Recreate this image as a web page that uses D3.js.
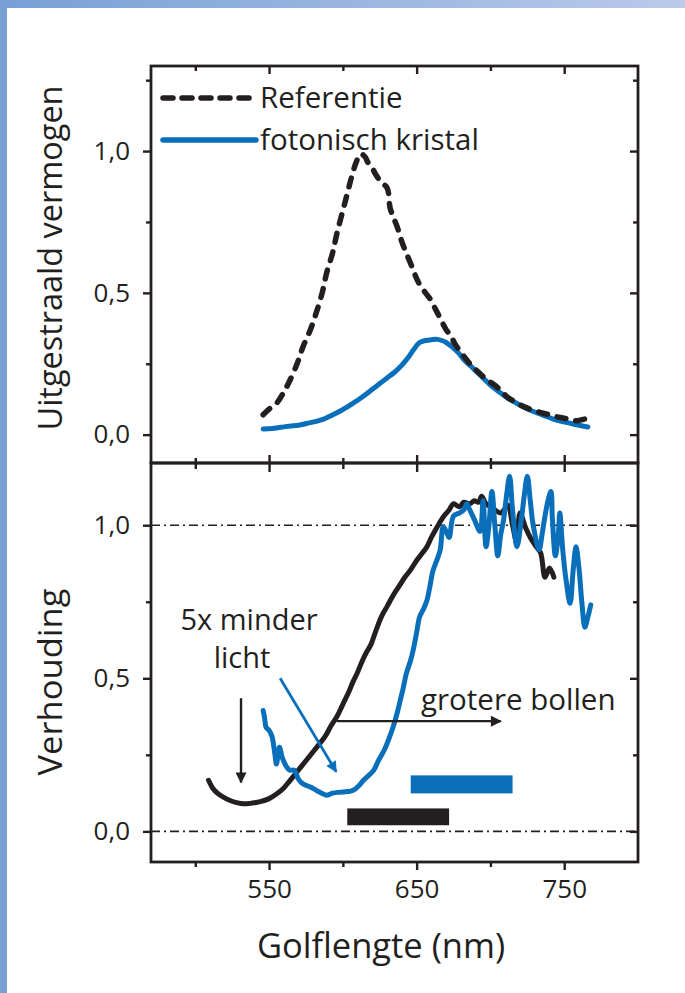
<!DOCTYPE html>
<html><head><meta charset="utf-8">
<script src="https://cdn.jsdelivr.net/npm/d3@7"></script>
<style>
body{margin:0;background:#fff}
text{font-family:'Open Sans',sans-serif;fill:#231f20}
</style></head>
<body><svg id="c" width="685" height="993"></svg>
<script>
// ---------- data ----------
const xTicksMajor = [550, 650, 750];
const xTicksMinor = [500, 600, 700];
const yTicksMajor = [0, 0.5, 1.0];
const yTopMinor = [0.25, 0.75, 1.25];
const yBotMinor = [0.25, 0.75];
const legendLabels = ["Referentie", "fotonisch kristal"];

const referentie = [[546,0.07],[550,0.09],[555,0.11],[560,0.15],[564,0.19],[569,0.25],[573,0.31],[578,0.37],[582,0.43],[586,0.50],[589,0.57],[593,0.64],[596,0.71],[600,0.79],[603,0.85],[606,0.91],[609,0.96],[612,0.99],[615,0.98],[617,0.96],[619,0.95],[622,0.92],[626,0.89],[630,0.87],[632,0.80],[634,0.77],[637,0.73],[640,0.68],[643,0.64],[647,0.59],[650,0.55],[652,0.53],[656,0.50],[659,0.48],[663,0.44],[666,0.41],[670,0.37],[673,0.35],[676,0.32],[680,0.29],[683,0.27],[686,0.25],[690,0.23],[695,0.205],[700,0.185],[704,0.17],[708,0.15],[712,0.13],[717,0.115],[722,0.10],[728,0.088],[734,0.078],[740,0.07],[745,0.063],[750,0.058],[756,0.05],[760,0.05],[764,0.055],[767,0.055]];

const kristal = [[546,0.02],[552,0.022],[558,0.026],[564,0.03],[570,0.033],[576,0.04],[582,0.047],[587,0.055],[592,0.067],[597,0.08],[601,0.092],[606,0.108],[611,0.125],[615,0.14],[620,0.16],[625,0.18],[630,0.2],[635,0.22],[640,0.245],[644,0.27],[648,0.3],[652,0.325],[656,0.332],[660,0.335],[664,0.336],[667,0.332],[670,0.325],[674,0.31],[678,0.29],[682,0.265],[686,0.245],[690,0.225],[695,0.2],[700,0.175],[706,0.15],[712,0.128],[718,0.11],[724,0.093],[730,0.08],[736,0.068],[742,0.056],[748,0.047],[754,0.04],[760,0.033],[766,0.027]];

const verhoudingZwart = [[509,0.167],[512,0.14],[515,0.125],[519,0.112],[524,0.1],[528,0.094],[533,0.09],[538,0.092],[544,0.097],[550,0.107],[555,0.122],[560,0.142],[564,0.165],[569,0.195],[574,0.225],[579,0.255],[584,0.285],[588,0.31],[592,0.345],[596,0.375],[600,0.415],[604,0.455],[607,0.49],[610,0.52],[613,0.555],[616,0.585],[619,0.61],[622,0.65],[626,0.7],[630,0.735],[634,0.77],[638,0.8],[642,0.83],[646,0.855],[650,0.885],[654,0.91],[657,0.93],[660,0.96],[664,0.995],[668,1.027],[672,1.05],[675,1.07],[679,1.06],[682,1.075],[686,1.07],[689,1.08],[692,1.075],[694,1.095],[697,1.07],[700,1.06],[703,1.05],[707,1.04],[710,1.055],[712,1.065],[715,1.0],[718,0.94],[720,1.04],[724,0.99],[727,0.96],[731,0.93],[734,0.91],[737,0.83],[740,0.86],[743,0.83]];

const verhoudingBlauw = [[546,0.395],[547,0.37],[548,0.34],[550,0.33],[552,0.31],[554,0.25],[555,0.22],[557,0.275],[559,0.24],[562,0.21],[564,0.2],[567,0.2],[570,0.17],[573,0.155],[578,0.145],[582,0.134],[586,0.124],[589,0.118],[593,0.125],[598,0.128],[603,0.13],[607,0.134],[611,0.15],[614,0.167],[618,0.185],[621,0.2],[624,0.23],[628,0.265],[631,0.3],[634,0.34],[637,0.39],[639,0.43],[641,0.47],[643,0.515],[646,0.56],[648,0.6],[650,0.65],[652,0.7],[655,0.73],[657,0.755],[659,0.8],[661,0.85],[664,0.89],[666,0.92],[668,0.995],[670,0.98],[672,0.96],[675,1.03],[679,1.04],[682,1.05],[684,1.07],[686,1.05],[689,1.02],[693,0.98],[695,1.08],[697,0.93],[699,1.0],[701,1.11],[703,1.0],[705,0.9],[707,0.97],[709,1.02],[711,1.1],[713,1.16],[715,1.05],[718,0.93],[721,1.02],[723,1.1],[725,1.16],[727,1.08],[729,1.0],[733,0.92],[735,0.97],[737,1.03],[739,1.08],[741,1.11],[742,1.02],[744,0.9],[746,0.97],[747,1.04],[749,0.92],[751,0.83],[754,0.745],[756,0.85],[758,0.93],[760,0.86],[762,0.745],[764,0.667],[766,0.7],[768,0.74]];

// bars in the lower panel: [nm start, nm end, value low, value high]
const balkBlauw = [646, 715, 0.124, 0.183];
const balkZwart = [603, 672, 0.02, 0.075];
// arrows in data units: [x1,y1,x2,y2]
const pijlZwart = [531, 0.435, 531, 0.16];
const pijlBlauw = [557.5, 0.50, 595.5, 0.195];
const pijlRechts = [596, 0.36, 707, 0.36];

// ---------- drawing ----------
const INK = "#231f20", BLUE = "#0a6fba";
const svg = d3.select("#c");
const defs = svg.append("defs");
const grad = defs.append("linearGradient").attr("id","g").attr("x1","0").attr("x2","1");
grad.append("stop").attr("offset","0").attr("stop-color","#78a0d5");
grad.append("stop").attr("offset","1").attr("stop-color","#bacaea");
svg.append("rect").attr("x",0).attr("y",0).attr("width",685).attr("height",8).attr("fill","url(#g)");
svg.append("rect").attr("x",0).attr("y",0).attr("width",7).attr("height",993).attr("fill","#78a0d5");

function marker(id, color){
  defs.append("marker").attr("id",id).attr("viewBox","0 0 10 10").attr("refX",9).attr("refY",5)
    .attr("markerWidth",24).attr("markerHeight",11).attr("markerUnits","userSpaceOnUse").attr("orient","auto")
    .append("path").attr("d","M0,0 L10,5 L0,10 Z").attr("fill",color);
}
marker("mk", INK); marker("mb", BLUE);

const x = d3.scaleLinear().domain([470,800]).range([151,638]);
const yTop = d3.scaleLinear().domain([-0.1,1.3]).range([463,66]);
const yBot = d3.scaleLinear().domain([-0.1,1.2]).range([862,464]);
const fmt = d => d3.format(".1f")(d).replace(".",",");

function styleAxis(g){
  g.select(".domain").remove();
  g.selectAll(".tick line").attr("stroke",INK).attr("stroke-width",2.4);
  g.selectAll("text").attr("font-size",26).attr("fill",INK);
}

function panel(y, yMinor, top, bottom, showX){
  svg.append("g").attr("transform",`translate(${x.range()[0]},0)`)
    .call(d3.axisLeft(y).tickValues(yTicksMajor).tickSize(8).tickPadding(13).tickFormat(fmt)).call(styleAxis);
  svg.append("g").attr("transform",`translate(${x.range()[0]},0)`)
    .call(d3.axisLeft(y).tickValues(yMinor).tickSize(5).tickFormat("")).call(styleAxis);
  svg.append("g").attr("transform",`translate(${x.range()[1]},0)`)
    .call(d3.axisRight(y).tickValues(yTicksMajor).tickSize(-8).tickFormat("")).call(styleAxis);
  svg.append("g").attr("transform",`translate(${x.range()[1]},0)`)
    .call(d3.axisRight(y).tickValues(yMinor).tickSize(-5).tickFormat("")).call(styleAxis);
  svg.append("g").attr("transform",`translate(0,${top})`)
    .call(d3.axisTop(x).tickValues(xTicksMajor).tickSize(-8).tickFormat("")).call(styleAxis);
  svg.append("g").attr("transform",`translate(0,${top})`)
    .call(d3.axisTop(x).tickValues(xTicksMinor).tickSize(-5).tickFormat("")).call(styleAxis);
  if(showX){
    svg.append("g").attr("transform",`translate(0,${bottom})`)
      .call(d3.axisBottom(x).tickValues(xTicksMajor).tickSize(8).tickPadding(10)).call(styleAxis);
    svg.append("g").attr("transform",`translate(0,${bottom})`)
      .call(d3.axisBottom(x).tickValues(xTicksMinor).tickSize(5).tickFormat("")).call(styleAxis);
  } else {
    svg.append("g").attr("transform",`translate(0,${bottom})`)
      .call(d3.axisBottom(x).tickValues(xTicksMajor).tickSize(-8).tickFormat("")).call(styleAxis);
    svg.append("g").attr("transform",`translate(0,${bottom})`)
      .call(d3.axisBottom(x).tickValues(xTicksMinor).tickSize(-5).tickFormat("")).call(styleAxis);
  }
}
panel(yTop, yTopMinor, 66, 463, false);
panel(yBot, yBotMinor, 464, 862, true);

[1.0, 0.0].forEach(v=>{
  svg.append("line").attr("x1",x.range()[0]).attr("x2",x.range()[1]).attr("y1",yBot(v)).attr("y2",yBot(v))
    .attr("stroke",INK).attr("stroke-width",1.7).attr("stroke-dasharray","9,4,2,4");
});

const lineTop = d3.line().x(d=>x(d[0])).y(d=>yTop(d[1])).curve(d3.curveCatmullRom.alpha(0.5));
const lineBot = d3.line().x(d=>x(d[0])).y(d=>yBot(d[1])).curve(d3.curveCatmullRom.alpha(0.5));

svg.append("path").attr("d",lineTop(kristal)).attr("fill","none").attr("stroke",BLUE).attr("stroke-width",5).attr("stroke-linejoin","round").attr("stroke-linecap","round");
svg.append("path").attr("d",lineTop(referentie)).attr("fill","none").attr("stroke",INK).attr("stroke-width",5.5).attr("stroke-dasharray","9,10").attr("stroke-linecap","round");

svg.append("path").attr("d",lineBot(verhoudingZwart)).attr("fill","none").attr("stroke",INK).attr("stroke-width",5).attr("stroke-linejoin","round").attr("stroke-linecap","round");
svg.append("path").attr("d",lineBot(verhoudingBlauw)).attr("fill","none").attr("stroke",BLUE).attr("stroke-width",5).attr("stroke-linejoin","round").attr("stroke-linecap","round");

[[balkBlauw,BLUE],[balkZwart,INK]].forEach(([b,c])=>{
  svg.append("rect").attr("x",x(b[0])).attr("width",x(b[1])-x(b[0]))
    .attr("y",yBot(b[3])).attr("height",yBot(b[2])-yBot(b[3])).attr("fill",c);
});

function arrow(a,color,mk,w){
  svg.append("line").attr("x1",x(a[0])).attr("y1",yBot(a[1])).attr("x2",x(a[2])).attr("y2",yBot(a[3]))
    .attr("stroke",color).attr("stroke-width",w).attr("marker-end",`url(#${mk})`);
}
arrow(pijlZwart, INK, "mk", 2.4);
arrow(pijlBlauw, BLUE, "mb", 2.8);
arrow(pijlRechts, INK, "mk", 2.4);

svg.append("rect").attr("x",151).attr("y",66).attr("width",487).attr("height",397).attr("fill","none").attr("stroke",INK).attr("stroke-width",2.8);
svg.append("rect").attr("x",151).attr("y",463).attr("width",487).attr("height",399).attr("fill","none").attr("stroke",INK).attr("stroke-width",2.8);

// legend
svg.append("line").attr("x1",163).attr("x2",256).attr("y1",98).attr("y2",98).attr("stroke",INK).attr("stroke-width",5.5).attr("stroke-dasharray","10,9").attr("stroke-linecap","round");
svg.append("line").attr("x1",163).attr("x2",256).attr("y1",140).attr("y2",140).attr("stroke",BLUE).attr("stroke-width",5.5).attr("stroke-linecap","round");
svg.append("text").attr("x",260).attr("y",108).attr("font-size",29.5).text(legendLabels[0]);
svg.append("text").attr("x",260).attr("y",150).attr("font-size",29.5).text(legendLabels[1]);

// annotations
svg.append("text").attr("x",249).attr("y",630).attr("font-size",29).attr("text-anchor","middle").text("5x minder");
svg.append("text").attr("x",242).attr("y",668).attr("font-size",29).attr("text-anchor","middle").text("licht");
svg.append("text").attr("x",421).attr("y",710).attr("font-size",29.5).text("grotere bollen");

// axis titles
svg.append("text").attr("transform","translate(62,258) rotate(-90)").attr("text-anchor","middle")
  .attr("font-size",33).attr("textLength",345).attr("lengthAdjust","spacingAndGlyphs").text("Uitgestraald vermogen");
svg.append("text").attr("transform","translate(62,682) rotate(-90)").attr("text-anchor","middle")
  .attr("font-size",33).attr("textLength",187).attr("lengthAdjust","spacingAndGlyphs").text("Verhouding");
svg.append("text").attr("x",381).attr("y",958).attr("text-anchor","middle").attr("font-size",34.5).text("Golflengte (nm)");
</script></body></html>
